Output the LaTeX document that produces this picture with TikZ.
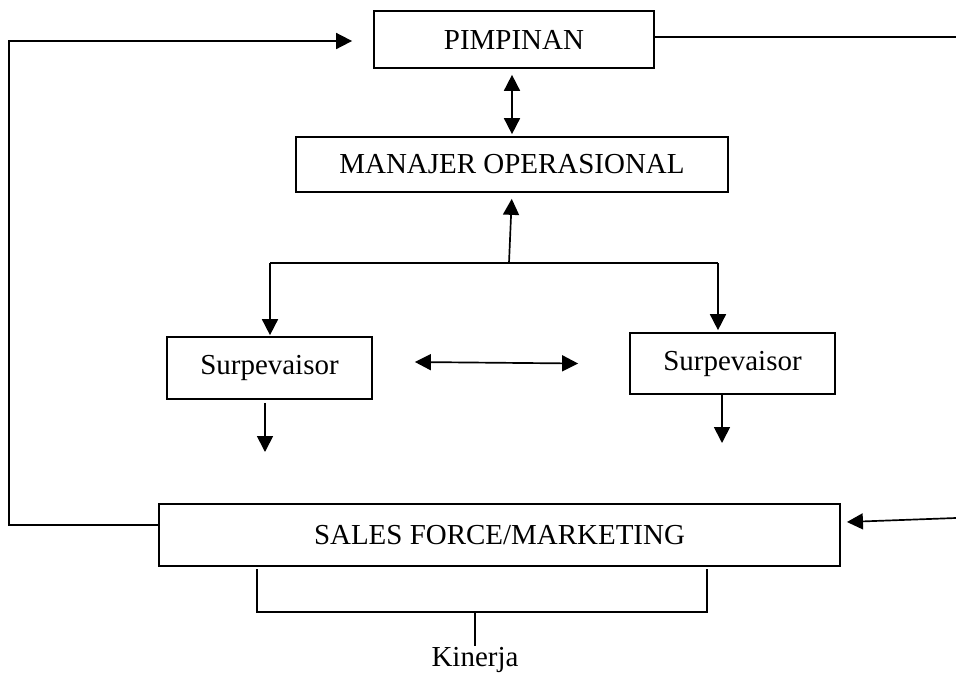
\documentclass[tikz,border=0pt]{standalone}
\usepackage{fontspec}
\setmainfont{Liberation Serif}
\usetikzlibrary{arrows.meta}
\begin{document}
\begin{tikzpicture}[x=0.025cm,y=-0.025cm,line width=1.2pt,>={Triangle[length=0.4cm,width=0.4cm]},font=\fontsize{20.6}{24}\selectfont,
	box/.style={draw,inner sep=0pt,align=center}]
			\useasboundingbox (0,0) rectangle (956,673);
			\node[box,minimum width=7cm,minimum height=1.425cm] (pimpinan) at (514,39.5) {PIMPINAN};
			\node[box,minimum width=10.8cm,minimum height=1.375cm] (manajer) at (512,164.5) {MANAJER OPERASIONAL};
			\node[box,minimum width=5.125cm,minimum height=1.55cm] (surpL) at (269.5,368) {Surpevaisor};
			\node[box,minimum width=5.125cm,minimum height=1.525cm] (surpR) at (732.5,363.5) {Surpevaisor};
			\node[box,minimum width=17.025cm,minimum height=1.55cm] (sales) at (499.5,535) {SALES FORCE/MARKETING};
			\node[inner sep=0pt,anchor=base] (kinerja) at (475,666) {Kinerja};
			% titik bantu
			\coordinate (lb) at (9,525);
			\coordinate (lt) at (9,41);
			\coordinate (rt) at (956,37);
			\coordinate (rb) at (956,518);
			\coordinate (bus) at (509,263);
			\coordinate (busL) at (270,263);
			\coordinate (busR) at (718,263);
			\coordinate (outL) at (265,452);
			\coordinate (outR) at (722,443);
			\coordinate (brL) at (257,569);
			\coordinate (brR) at (707,569);
			\coordinate (brM) at (475,612);
			% garis umpan balik
			\draw[->,shorten >=0.525cm] (lb -| sales.west)--(lb)--(lt)--(lt -| pimpinan.west);
			\draw (rt -| pimpinan.east)--(rt);
			\draw[->] (rb)--([xshift=0.15cm,yshift=0.325cm]sales.east);
			% pimpinan - manajer
			\draw[<->,shorten <=0.15cm,shorten >=0.05cm] (manajer.north |- pimpinan.south)--(manajer.north);
			\draw[->,shorten >=0.15cm] (bus)--(manajer.south);
			\draw (busL)--(busR);
			\draw[->,shorten >=0.025cm] (busL)--(busL |- surpL.north);
			\draw[->,shorten >=0.05cm] (busR)--(busR |- surpR.north);
			\draw[<->] ([xshift=1.05cm,yshift=0.15cm]surpL.east)--([xshift=-1.275cm]surpR.west);
			\draw[->,shorten <=0.075cm] (outL |- surpL.south)--(outL);
			\draw[->] (outR |- surpR.south)--(outR);
			% kinerja
			\draw[line width=0.9pt] (brL)--(brL |- brM)--(brR |- brM)--(brR);
			\draw[line width=0.9pt] (brM)--(kinerja.north);
		\end{tikzpicture}
\end{document}
